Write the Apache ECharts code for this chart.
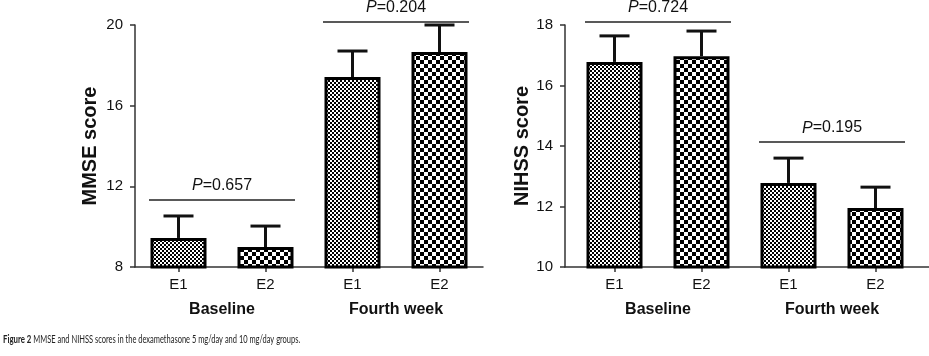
<!DOCTYPE html>
<html><head><meta charset="utf-8">
<script src="https://cdn.jsdelivr.net/npm/echarts@6/dist/echarts.min.js"></script>
<style>html,body{margin:0;padding:0;background:#fff}#c{width:929px;height:356px}</style>
</head><body><div id="c"></div>
<script>
// ---- data ----
const categories = ['E1', 'E2', 'E1', 'E2'];
const groups = ['Baseline', 'Fourth week'];
const mmseMean = [9.44, 8.99, 17.42, 18.66];
const mmseUpper = [10.53, 10.03, 18.71, 20.0];
const nihssMean = [16.78, 16.97, 12.78, 11.95];
const nihssUpper = [17.64, 17.80, 13.60, 12.64];
const mmsePValues = ['0.657', '0.204'];
const mmsePLevels = [11.32, 20.15];
const nihssPValues = ['0.724', '0.195'];
const nihssPLevels = [18.1, 14.13];
const mmseTicks = { min: 8, max: 20, interval: 4 };
const nihssTicks = { min: 10, max: 18, interval: 2 };

// ---- patterns ----
function checker(sq) {
  const c = document.createElement('canvas');
  c.width = sq * 2; c.height = sq * 2;
  const g = c.getContext('2d');
  g.fillStyle = '#fff'; g.fillRect(0, 0, sq * 2, sq * 2);
  g.fillStyle = '#000';
  g.fillRect(0, 0, sq, sq); g.fillRect(sq, sq, sq, sq);
  return { image: c.toDataURL(), repeat: 'repeat' };
}
const fine = checker(2), coarse = checker(4);
const INK = '#111';
const FONT = '"Liberation Sans", Arial, sans-serif';

const chart = echarts.init(document.getElementById('c'), null, { renderer: 'canvas' });

// split E1 / E2 into two series sharing the same slot
function pick(vals, parity) { return vals.map((v, i) => (i % 2 === parity ? v : '-')); }
function errData(mean, upper) { return mean.map((m, i) => [i, m, upper[i]]); }
function pData(vals, levels) { return vals.map((p, i) => [i * 2, i * 2 + 1, levels[i], p]); }

function renderErr(params, api) {
  const a = api.coord([api.value(0), api.value(1)]);
  const b = api.coord([api.value(0), api.value(2)]);
  const st = { stroke: '#111', lineWidth: 3 };
  return { type: 'group', children: [
    { type: 'line', shape: { x1: a[0], y1: a[1], x2: b[0], y2: b[1] }, style: st },
    { type: 'line', shape: { x1: b[0] - 15, y1: b[1], x2: b[0] + 15, y2: b[1] }, style: st }
  ]};
}
function renderP(params, api) {
  const a = api.coord([api.value(0), api.value(2)]);
  const b = api.coord([api.value(1), api.value(2)]);
  const half = 29.5;
  return { type: 'group', children: [
    { type: 'line', shape: { x1: a[0] - half, y1: a[1], x2: b[0] + half, y2: b[1] }, style: { stroke: '#222', lineWidth: 1.5 } },
    { type: 'text', style: { x: (a[0] + b[0]) / 2, y: a[1] - 14, text: '{i|P}=' + api.value(3),
      align: 'center', verticalAlign: 'middle', font: '16px ' + FONT, fill: INK,
      rich: { i: { fontStyle: 'italic', fontSize: 16, fontFamily: FONT, fill: INK } } } }
  ]};
}

const grids = [
  { left: 135, top: 25, width: 348, bottom: 89 },
  { left: 571, top: 25, width: 348, bottom: 89 },
  { left: 565, top: 25, right: 0, bottom: 89 }
];
const axisLineStyle = { color: '#333', width: 1.5 };
function catAxis(gi, showLine) {
  return { type: 'category', gridIndex: gi, data: categories, boundaryGap: true,
    axisLine: { show: showLine, lineStyle: axisLineStyle },
    axisTick: { show: true, alignWithLabel: true, length: 5, lineStyle: axisLineStyle },
    axisLabel: { color: INK, fontSize: 15, fontFamily: FONT, margin: 10 } };
}
function groupAxis(gi) {
  return { type: 'category', gridIndex: gi, data: groups, position: 'bottom',
    axisLine: { show: false }, axisTick: { show: false },
    axisLabel: { color: INK, fontSize: 16, fontWeight: 'bold', fontFamily: FONT, margin: 35 } };
}
function valAxis(gi, t, name, offset, gap) {
  return { type: 'value', gridIndex: gi, min: t.min, max: t.max, interval: t.interval, offset: offset,
    name: name, nameLocation: 'middle', nameGap: gap,
    nameTextStyle: { color: INK, fontSize: 20, fontWeight: 'bold', fontFamily: FONT },
    splitLine: { show: false },
    axisLine: { show: true, lineStyle: axisLineStyle },
    axisTick: { show: true, length: 5, lineStyle: axisLineStyle },
    axisLabel: { color: INK, fontSize: 15, fontFamily: FONT, margin: 12 } };
}
function bars(xi, yi, vals) {
  return [0, 1].map(par => ({
    type: 'bar', xAxisIndex: xi, yAxisIndex: yi, data: pick(vals, par), barWidth: 56, barGap: '-100%',
    itemStyle: { color: par === 0 ? fine : coarse, borderColor: '#000', borderWidth: 3 }, z: 3
  }));
}

chart.setOption({
  backgroundColor: '#fff',
  animation: false,
  grid: grids,
  xAxis: [
    catAxis(0, true), groupAxis(0),
    catAxis(1, false), groupAxis(1),
    { type: 'value', gridIndex: 2, min: 0, max: 1, axisLine: { show: true, onZero: false, lineStyle: axisLineStyle },
      axisTick: { show: false }, axisLabel: { show: false }, splitLine: { show: false } }
  ],
  yAxis: [
    valAxis(0, mmseTicks, 'MMSE score', 0, 35),
    valAxis(1, nihssTicks, 'NIHSS score', 6, 27),
    { type: 'value', gridIndex: 2, show: false, splitLine: { show: false } }
  ],
  series: [
    ...bars(0, 0, mmseMean),
    { type: 'custom', xAxisIndex: 0, yAxisIndex: 0, data: errData(mmseMean, mmseUpper), renderItem: renderErr, z: 2 },
    { type: 'custom', xAxisIndex: 0, yAxisIndex: 0, data: pData(mmsePValues, mmsePLevels), renderItem: renderP, clip: false, z: 4 },
    ...bars(2, 1, nihssMean),
    { type: 'custom', xAxisIndex: 2, yAxisIndex: 1, data: errData(nihssMean, nihssUpper), renderItem: renderErr, z: 2 },
    { type: 'custom', xAxisIndex: 2, yAxisIndex: 1, data: pData(nihssPValues, nihssPLevels), renderItem: renderP, clip: false, z: 4 }
  ],
  graphic: [
    { type: 'text', left: 3, top: 333, scaleX: 0.68, style: {
      text: '{b|Figure 2} MMSE and NIHSS scores in the dexamethasone 5 mg/day and 10 mg/day groups.',
      font: '11px Lato, "Open Sans", sans-serif', fill: '#222',
      rich: { b: { fontWeight: 'bold', fontSize: 11.5, fontFamily: 'Lato, "Open Sans", sans-serif', fill: '#222' } } } }
  ]
});
</script></body></html>
